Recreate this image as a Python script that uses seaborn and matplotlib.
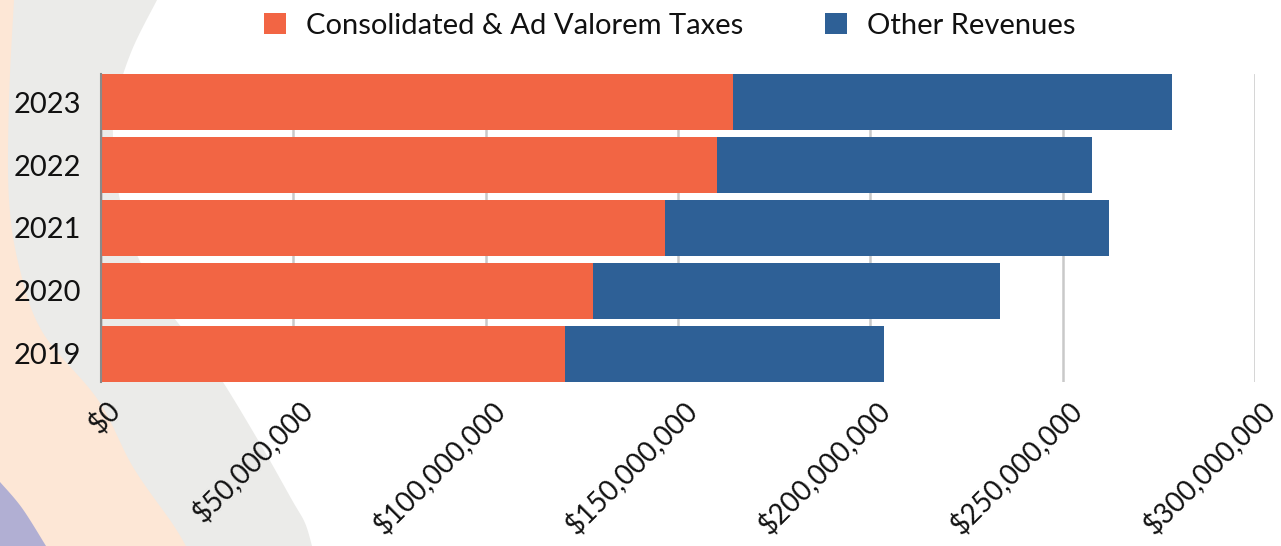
import numpy as np
import pandas as pd
import matplotlib
matplotlib.use("Agg")
import matplotlib.pyplot as plt
from matplotlib.patches import Polygon, Patch
from matplotlib.ticker import FuncFormatter, MultipleLocator
import matplotlib.transforms as mtransforms
import seaborn as sns

# Revenue by year (USD)
years = ["2023", "2022", "2021", "2020", "2019"]
taxes = [164_300_000, 160_100_000, 146_600_000, 127_900_000, 120_600_000]
other = [114_100_000, 97_500_000, 115_400_000, 105_800_000, 82_900_000]
series_names = ["Consolidated & Ad Valorem Taxes", "Other Revenues"]

ORANGE = "#F26544"
BLUE = "#2E6096"

sns.set_theme(style="white")
plt.rcParams["font.family"] = ["Lato", "DejaVu Sans"]

df = pd.DataFrame({"year": years, "taxes": taxes, "other": other})
df["total"] = df["taxes"] + df["other"]

W, H = 1281, 546
fig = plt.figure(figsize=(W / 100, H / 100), dpi=100)
fig.patch.set_facecolor("white")

# Decorative background bands (pixel coordinates, y downward)
bg = fig.add_axes([0, 0, 1, 1], zorder=0)
bg.set_xlim(0, W)
bg.set_ylim(H, 0)
bg.axis("off")


def smooth(pts, n=20):
    pts = np.asarray(pts, float)
    p = np.vstack([pts[0], pts, pts[-1]])
    out = []
    for i in range(1, len(p) - 2):
        p0, p1, p2, p3 = p[i - 1], p[i], p[i + 1], p[i + 2]
        for t in np.linspace(0, 1, n, endpoint=False):
            t2, t3 = t * t, t * t * t
            out.append(0.5 * ((2 * p1) + (-p0 + p2) * t
                              + (2 * p0 - 5 * p1 + 4 * p2 - p3) * t2
                              + (-p0 + 3 * p1 - 3 * p2 + p3) * t3))
    out.append(pts[-1])
    return np.array(out)


gray_edge = smooth([(157, 0), (132, 50), (116, 100), (113, 140), (118, 190),
                    (134, 248), (167, 308), (213, 367), (258, 440),
                    (292, 500), (305, 523), (312, 546)])
peach_edge = smooth([(14, 0), (9, 100), (9, 200), (20, 270), (43, 333),
                     (98, 400), (133, 467), (172, 523), (186, 546)])
purple_edge = smooth([(0, 482), (22, 508), (46, 546)])

bg.add_patch(Polygon(np.vstack([[(0, 0)], gray_edge, [(0, H)]]),
                     closed=True, fc="#EBEBE9", ec="none"))
bg.add_patch(Polygon(np.vstack([[(0, 0)], peach_edge, [(0, H)]]),
                     closed=True, fc="#FDE7D6", ec="none"))
bg.add_patch(Polygon(np.vstack([purple_edge, [(0, H)]]),
                     closed=True, fc="#B1AFD3", ec="none"))

# Main chart
ax = fig.add_axes([101 / W, 1 - 382 / H, (1255 - 101) / W, (382 - 74) / H], zorder=1)
ax.set_facecolor("none")

sns.barplot(data=df, x="total", y="year", order=years, color=BLUE,
            width=0.89, saturation=1, ax=ax, linewidth=0)
sns.barplot(data=df, x="taxes", y="year", order=years, color=ORANGE,
            width=0.89, saturation=1, ax=ax, linewidth=0)

ax.set_xlim(0, 300_000_000)
ax.set_ylim(4.445, -0.445)
ax.xaxis.set_major_locator(MultipleLocator(50_000_000))
ax.xaxis.set_major_formatter(FuncFormatter(lambda v, _: f"${v:,.0f}"))
ax.set_axisbelow(True)
ax.grid(axis="x", color="#C9C9C9", linewidth=1.8)
ax.grid(axis="y", visible=False)
for side in ["top", "right", "bottom"]:
    ax.spines[side].set_visible(False)
ax.spines["left"].set_color("#8A8A8A")
ax.spines["left"].set_linewidth(1.5)
ax.set_xlabel("")
ax.set_ylabel("")
ax.tick_params(axis="y", length=0, pad=14, labelsize=21, labelcolor="#111111")
ax.tick_params(axis="x", length=0, pad=17, labelsize=20, labelcolor="#111111")

shift = mtransforms.ScaledTranslation(15 / 100, 0, fig.dpi_scale_trans)
for lbl in ax.get_xticklabels():
    lbl.set_rotation(45)
    lbl.set_ha("right")
    lbl.set_va("center")
    lbl.set_rotation_mode("anchor")
    lbl.set_transform(lbl.get_transform() + shift)

handles = [Patch(fc=ORANGE, ec="none"), Patch(fc=BLUE, ec="none")]
fig.legend(handles, series_names, loc="center", bbox_to_anchor=(0.523, 0.953),
           ncol=2, frameon=False, fontsize=21, handlelength=0.75, handleheight=0.75,
           handletextpad=0.7, columnspacing=2.8, labelcolor="#111111")

fig.savefig("out.png", dpi=100)
